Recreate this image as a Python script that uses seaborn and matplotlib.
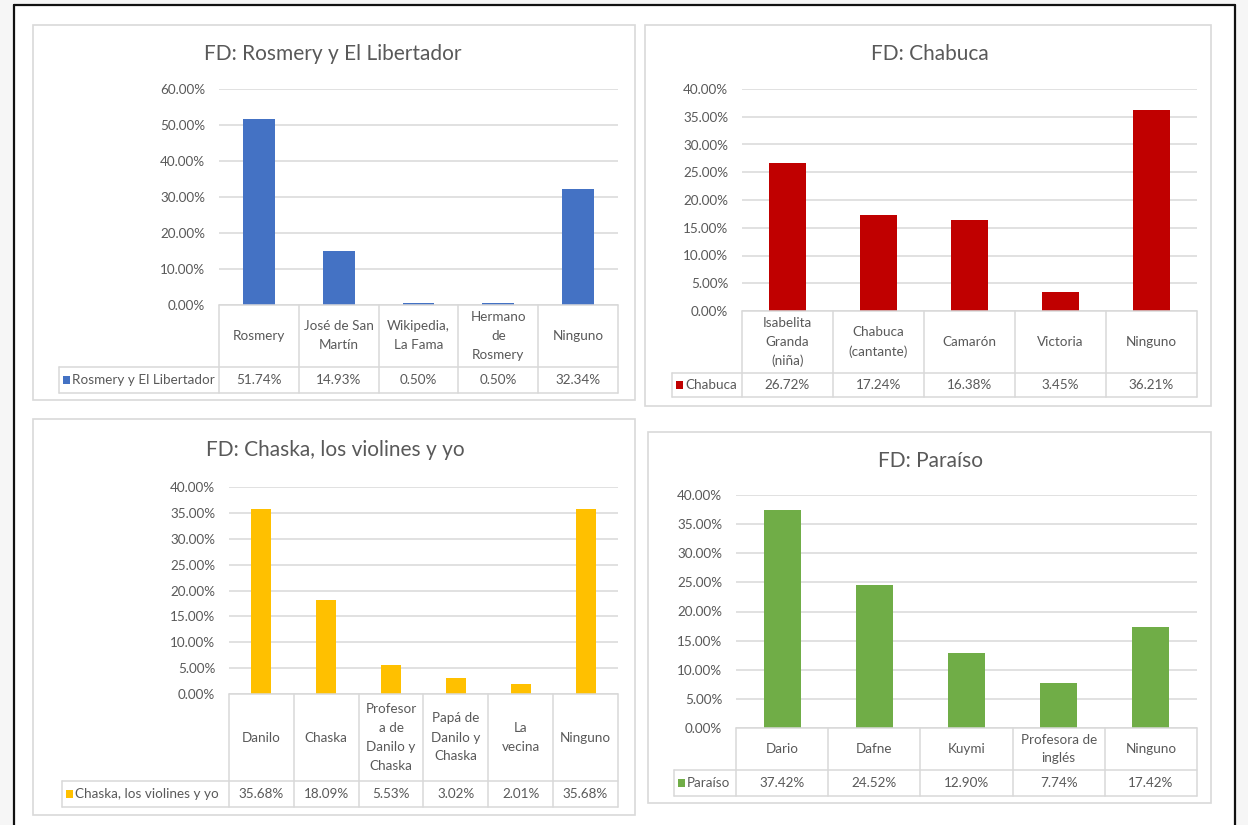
import numpy as np
import matplotlib
matplotlib.use("Agg")
import matplotlib.pyplot as plt
import seaborn as sns
from matplotlib.patches import Rectangle
from matplotlib.lines import Line2D
from matplotlib.ticker import FuncFormatter
from matplotlib.transforms import blended_transform_factory

# ---------------- data ----------------
titles = ["FD: Rosmery y El Libertador", "FD: Chabuca",
          "FD: Chaska, los violines y yo", "FD: Paraíso"]
series_names = ["Rosmery y El Libertador", "Chabuca",
                "Chaska, los violines y yo", "Paraíso"]

cats_rosmery = ["Rosmery", "José de San\nMartín", "Wikipedia,\nLa Fama",
                "Hermano\nde\nRosmery", "Ninguno"]
vals_rosmery = [51.74, 14.93, 0.50, 0.50, 32.34]

cats_chabuca = ["Isabelita\nGranda\n(niña)", "Chabuca\n(cantante)", "Camarón",
                "Victoria", "Ninguno"]
vals_chabuca = [26.72, 17.24, 16.38, 3.45, 36.21]

cats_chaska = ["Danilo", "Chaska", "Profesor\na de\nDanilo y\nChaska",
               "Papá de\nDanilo y\nChaska", "La\nvecina", "Ninguno"]
vals_chaska = [35.68, 18.09, 5.53, 3.02, 2.01, 35.68]

cats_paraiso = ["Dario", "Dafne", "Kuymi", "Profesora de\ninglés", "Ninguno"]
vals_paraiso = [37.42, 24.52, 12.90, 7.74, 17.42]

y_max = [60, 40, 40, 40]
y_step = [10, 5, 5, 5]

colors = ["#4472C4", "#C00000", "#FFC000", "#70AD47"]

# ---------------- style ----------------
sns.set_style("white")
plt.rcParams['font.family'] = ['Lato', 'DejaVu Sans']
TXT = "#595959"
GRID = "#D9D9D9"
FS = 9.7

W, H = 1248, 825
fig = plt.figure(figsize=(W / 100, H / 100), dpi=100, facecolor="#F6F6F6")


def fx(x):
    return x / W


def fy(y):
    return 1 - y / H


# page background and outer frame
fig.add_artist(Rectangle((fx(14), fy(825)), fx(1235) - fx(14), fy(5) - fy(825),
                         transform=fig.transFigure, facecolor="white",
                         edgecolor="none", zorder=-10))
for xs, ys in [([14, 14], [5, 825]), ([1235, 1235], [5, 825]), ([14, 1235], [5, 5])]:
    fig.add_artist(Line2D([fx(v) for v in xs], [fy(v) for v in ys],
                          transform=fig.transFigure, color="#111111", lw=1.6))


def draw_panel(title, series, cats, vals, color, ymax, ystep,
               frame, title_xy, plot, cat_bottom, data_bottom, legend_left, bar_w):
    x0, y0, x1, y1 = frame
    fig.add_artist(Rectangle((fx(x0), fy(y1)), fx(x1) - fx(x0), fy(y0) - fy(y1),
                             transform=fig.transFigure, fill=False,
                             edgecolor=GRID, lw=1.2))
    fig.text(fx(title_xy[0]), fy(title_xy[1]), title, ha="center", va="center",
             fontsize=15, color=TXT)

    px0, py0, px1, py1 = plot
    ax = fig.add_axes([fx(px0), fy(py1), fx(px1) - fx(px0), fy(py0) - fy(py1)])
    sns.barplot(x=cats, y=vals, color=color, saturation=1, width=bar_w,
                errorbar=None, linewidth=0, ax=ax, zorder=3)
    n = len(cats)
    ax.set_xlim(-0.5, n - 0.5)
    ax.set_ylim(0, ymax)
    ax.set_yticks(np.arange(0, ymax + ystep / 2, ystep))
    ax.yaxis.set_major_formatter(FuncFormatter(lambda v, _: f"{v:.2f}%"))
    ax.set_xticks([])
    ax.set_xlabel("")
    ax.set_ylabel("")
    for s in ax.spines.values():
        s.set_visible(False)
    ax.grid(axis="y", color=GRID, lw=1.1)
    ax.set_axisbelow(True)
    ax.tick_params(axis="y", length=0, pad=10, labelsize=FS, labelcolor=TXT)
    ax.patch.set_alpha(0)

    tr = blended_transform_factory(ax.transData, fig.transFigure)
    lk = dict(color=GRID, lw=1.1)
    # horizontal table lines
    fig.add_artist(Line2D([-0.5, n - 0.5], [fy(py1)] * 2, transform=tr, **lk))
    for yy in (cat_bottom, data_bottom):
        fig.add_artist(Line2D([fx(legend_left), fx(px1)], [fy(yy)] * 2,
                              transform=fig.transFigure, **lk))
    # vertical table lines
    for i in range(n + 1):
        fig.add_artist(Line2D([i - 0.5, i - 0.5], [fy(py1), fy(data_bottom)],
                              transform=tr, **lk))
    fig.add_artist(Line2D([fx(legend_left)] * 2, [fy(cat_bottom), fy(data_bottom)],
                          transform=fig.transFigure, **lk))
    # cell texts
    cy = fy((py1 + cat_bottom) / 2)
    dy = fy((cat_bottom + data_bottom) / 2)
    for i, (c, v) in enumerate(zip(cats, vals)):
        fig.text(i, cy, c, transform=tr, ha="center", va="center",
                 fontsize=FS, color=TXT, linespacing=1.7)
        fig.text(i, dy, f"{v:.2f}%", transform=tr, ha="center", va="center",
                 fontsize=FS, color=TXT)
    # legend key
    fig.add_artist(Rectangle((fx(legend_left + 4), dy - 4 / H), 7 / W, 8 / H,
                             transform=fig.transFigure, facecolor=color,
                             edgecolor="none"))
    fig.text(fx(legend_left + 13), dy, series, ha="left", va="center",
             fontsize=FS, color=TXT)


draw_panel(titles[0], series_names[0], cats_rosmery, vals_rosmery, colors[0],
           y_max[0], y_step[0], frame=(33, 25, 635, 400), title_xy=(333, 54),
           plot=(219, 89, 618, 305), cat_bottom=367, data_bottom=393,
           legend_left=59, bar_w=0.4)
draw_panel(titles[1], series_names[1], cats_chabuca, vals_chabuca, colors[1],
           y_max[1], y_step[1], frame=(645, 25, 1211, 406), title_xy=(930, 54),
           plot=(742, 89, 1197, 311), cat_bottom=373, data_bottom=397,
           legend_left=672, bar_w=0.4)
draw_panel(titles[2], series_names[2], cats_chaska, vals_chaska, colors[2],
           y_max[2], y_step[2], frame=(33, 419, 635, 815), title_xy=(335, 450),
           plot=(229, 487, 618, 694), cat_bottom=781, data_bottom=807,
           legend_left=62, bar_w=0.31)
draw_panel(titles[3], series_names[3], cats_paraiso, vals_paraiso, colors[3],
           y_max[3], y_step[3], frame=(648, 432, 1211, 803), title_xy=(931, 461),
           plot=(736, 495, 1197, 728), cat_bottom=770, data_bottom=796,
           legend_left=674, bar_w=0.4)

fig.savefig("out.png", dpi=100, facecolor=fig.get_facecolor())
